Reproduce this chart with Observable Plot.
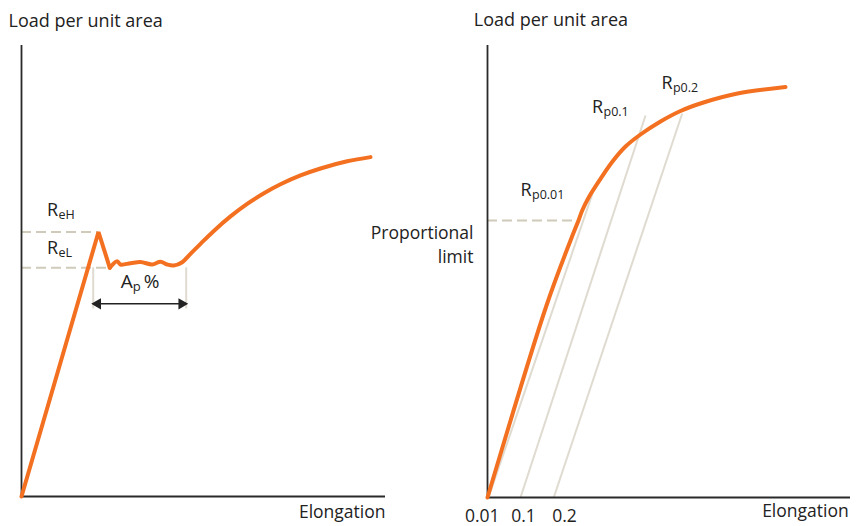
<!DOCTYPE html>
<html><head><meta charset="utf-8">
<script src="https://cdn.jsdelivr.net/npm/d3@7"></script>
<script src="https://cdn.jsdelivr.net/npm/@observablehq/plot@0.6"></script>
<style>
body{margin:0;background:#fff;font-family:"Open Sans",sans-serif}
#wrap{display:flex;width:864px;height:526px}
</style>
</head><body><div id="wrap"></div>
<script>
// ---------- Left panel: material with a yield point ----------
const yieldElong = [0, 21.15, 24.26];
const yieldLoad = [0, 58.65, 50.71];
const hardenElong = [24.26, 26.29, 27.2, 29.95, 32.69, 35.91, 38.19, 40.03, 41.84, 44.15, 46.43, 49.18, 52.83, 57.42, 62.0, 66.48, 71.15, 76.65, 82.14, 89.48, 95.88];
const hardenLoad = [50.71, 52.17, 51.44, 51.73, 52.0, 51.44, 52.04, 51.44, 51.22, 51.95, 53.81, 56.03, 58.89, 62.11, 64.88, 67.18, 69.22, 71.18, 72.73, 74.32, 75.25];
const upperYield = 58.65, upperYieldElong = 21.15;
const lowerYield = 50.71, lowerYieldElong = 24.26;
const apStart = 19.7, apEnd = 45.25, apBottom = 41.6, apArrowLoad = 42.73;
const leftLabels = ["R", "R"];
const leftSubs = ["eH", "eL"];
const leftLabelX = [7.0, 7.0];
const leftLabelY = [63.5, 55.0];
const apLabel = ["A"], apSub = ["p"], apTail = ["%"];
const apLabelX = 27.3, apLabelY = 47.6;

// ---------- Right panel: material without a yield point ----------
const proofElong = [0, 16.25, 22.87, 25.07, 26.09, 27.91, 31.13, 34.44, 38.02, 42.15, 47.66, 53.17, 59.5, 68.87, 82.09];
const proofLoad = [0, 42.48, 56.86, 61.28, 63.5, 66.44, 70.51, 74.34, 77.65, 80.31, 83.19, 85.51, 87.39, 89.38, 90.82];
const offsetStart = [0.28, 9.09, 18.26];
const offsetEndElong = [28.93, 43.53, 53.64];
const offsetEndLoad = [67.26, 84.51, 84.96];
const offsetTicks = ["0.01", "0.1", "0.2"];
const offsetTickX = [-1.46, 9.92, 21.2];
const propLimit = 61.28, propLimitElong = 25.07;
const rightLabels = ["R", "R", "R"];
const rightSubs = ["p0.01", "p0.1", "p0.2"];
const rightLabelX = [9.1, 28.8, 47.9];
const rightLabelY = [68.0, 86.4, 91.6];

const ORANGE = "#f37021", AXIS = "#2a2a2a", GREY = "#e0dbd0", DASH = "#cfcaba", INK = "#222";
const FS = 17.5;

const yieldData = yieldElong.map((x, i) => ({x, y: yieldLoad[i]}));
const hardenData = hardenElong.map((x, i) => ({x, y: hardenLoad[i]}));
const leftLab = leftLabels.map((t, i) => ({t, s: leftSubs[i], x: leftLabelX[i], y: leftLabelY[i]}));

const common = {height: 526, marginTop: 45, style: {fontFamily: "'Open Sans', sans-serif", background: "white", overflow: "visible"}};

const left = Plot.plot({
  ...common, width: 432, marginLeft: 21, marginRight: 47, marginBottom: 30,
  x: {domain: [0, 100], axis: null}, y: {domain: [0, 100], axis: null},
  marks: [
    Plot.ruleY([upperYield], {x1: 0, x2: upperYieldElong, stroke: DASH, strokeWidth: 2, strokeDasharray: "10,5"}),
    Plot.ruleY([lowerYield], {x1: 0, x2: lowerYieldElong, stroke: DASH, strokeWidth: 2, strokeDasharray: "10,5"}),
    Plot.ruleX([apStart, apEnd], {y1: lowerYield, y2: apBottom, stroke: GREY, strokeWidth: 2}),
    Plot.ruleY([apArrowLoad], {x1: apStart, x2: apEnd, stroke: INK, strokeWidth: 1.6, insetLeft: 4, insetRight: 4}),
    Plot.dot([apStart], {x: d => d, y: apArrowLoad, rotate: -90, symbol: "triangle", r: 4.2, fill: INK, stroke: "none", dx: 4.5}),
    Plot.dot([apEnd], {x: d => d, y: apArrowLoad, rotate: 90, symbol: "triangle", r: 4.2, fill: INK, stroke: "none", dx: -4.5}),
    Plot.ruleX([0], {stroke: AXIS, strokeWidth: 1.8}),
    Plot.ruleY([0], {stroke: AXIS, strokeWidth: 1.8}),
    Plot.line(yieldData, {x: "x", y: "y", stroke: ORANGE, strokeWidth: 4, strokeLinejoin: "miter"}),
    Plot.line(hardenData, {x: "x", y: "y", stroke: ORANGE, strokeWidth: 4, curve: "catmull-rom", strokeLinecap: "round"}),
    Plot.text(leftLab, {x: "x", y: "y", text: "t", textAnchor: "start", fontSize: 18, fill: INK}),
    Plot.text(leftLab, {x: "x", y: "y", text: "s", textAnchor: "start", fontSize: 12.5, dx: 11.5, dy: 5, fill: INK}),
    Plot.text(apLabel, {x: apLabelX, y: apLabelY, textAnchor: "start", fontSize: 19, fill: INK}),
    Plot.text(apSub, {x: apLabelX, y: apLabelY, textAnchor: "start", fontSize: 13, dx: 12, dy: 5, fill: INK}),
    Plot.text(apTail, {x: apLabelX, y: apLabelY, textAnchor: "start", fontSize: 19, dx: 23, fill: INK}),
    Plot.text(["Load per unit area"], {x: -3.57, y: 105.4, textAnchor: "start", fontSize: 18, fill: INK}),
    Plot.text(["Elongation"], {x: 100, y: -3.46, textAnchor: "end", fontSize: FS, fill: INK})
  ]
});

const proofData = proofElong.map((x, i) => ({x, y: proofLoad[i]}));
const offsets = offsetStart.map((x, i) => ({x1: x, y1: 0, x2: offsetEndElong[i], y2: offsetEndLoad[i]}));
const ticks = offsetTicks.map((t, i) => ({t, x: offsetTickX[i]}));
const rightLab = rightLabels.map((t, i) => ({t, s: rightSubs[i], x: rightLabelX[i], y: rightLabelY[i]}));

const right = Plot.plot({
  ...common, width: 432, marginLeft: 55, marginRight: 14, marginBottom: 29,
  x: {domain: [0, 100], axis: null}, y: {domain: [0, 100], axis: null},
  marks: [
    Plot.link(offsets, {x1: "x1", y1: "y1", x2: "x2", y2: "y2", stroke: GREY, strokeWidth: 2}),
    Plot.ruleY([propLimit], {x1: 0, x2: propLimitElong, stroke: DASH, strokeWidth: 2, strokeDasharray: "10,5"}),
    Plot.ruleX([0], {stroke: AXIS, strokeWidth: 1.8}),
    Plot.ruleY([0], {stroke: AXIS, strokeWidth: 1.8}),
    Plot.line(proofData, {x: "x", y: "y", stroke: ORANGE, strokeWidth: 4, curve: "catmull-rom", strokeLinecap: "round"}),
    Plot.text(rightLab, {x: "x", y: "y", text: "t", textAnchor: "start", fontSize: 18, fill: INK}),
    Plot.text(rightLab, {x: "x", y: "y", text: "s", textAnchor: "start", fontSize: 12.5, dx: 11.5, dy: 5, fill: INK}),
    Plot.text(ticks, {x: "x", y: -4.27, text: "t", fontSize: FS, fill: INK}),
    Plot.text(["Proportional\nlimit"], {x: -3.86, y: 56.3, textAnchor: "end", lineHeight: 1.38, fontSize: FS, fill: INK}),
    Plot.text(["Load per unit area"], {x: -3.77, y: 105.5, textAnchor: "start", fontSize: 18, fill: INK}),
    Plot.text(["Elongation"], {x: 99.5, y: -3.16, textAnchor: "end", fontSize: FS, fill: INK})
  ]
});

document.getElementById("wrap").append(left, right);
</script>
</body></html>
